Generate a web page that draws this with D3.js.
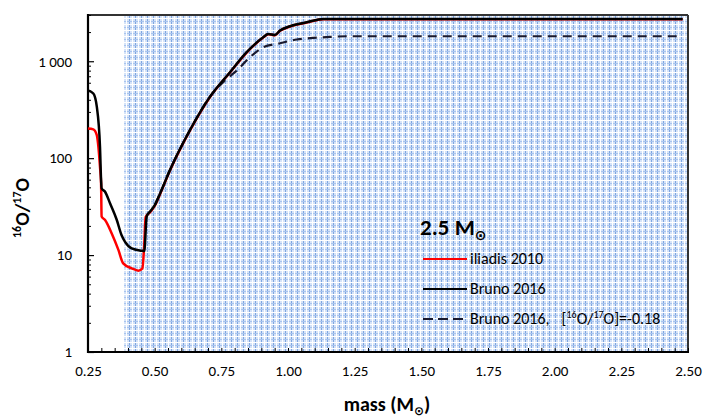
<!DOCTYPE html>
<html><head><meta charset="utf-8">
<script src="https://cdn.jsdelivr.net/npm/d3@7"></script>
<style>
body{margin:0;background:#fff;}
svg{display:block;font-family:Carlito,Lato,"Open Sans",sans-serif;}
</style></head><body>
<svg id="c" width="709" height="420"></svg>
<script>
// ---- data ----
const massBlack = [0.250,0.270,0.283,0.295,0.299,0.301,0.314,0.333,0.358,0.376,0.389,0.414,0.451,0.461,0.470,0.482,0.489,0.501,0.520,0.557,0.632,0.707,0.7825,0.845,0.907,0.926,0.951,0.970,1.0075,1.070,1.132,1.500,2.000,2.480];
const ratioBlack = [500,465,340,130,60,49,45,34,23,16,13.7,11.7,11.1,11.0,25,28,29.5,33,43,75,194,429,771,1239,1767,1911,1867,2072,2296,2523,2729,2730,2730,2730];

const massRed = [0.250,0.270,0.283,0.289,0.295,0.299,0.301,0.314,0.339,0.364,0.382,0.414,0.439,0.454,0.461,0.466,0.482,0.489,0.501,0.520,0.557,0.632,0.707,0.7825,0.845,0.907,0.926,0.951,0.970,1.0075,1.070,1.132,2.480];
const ratioRed = [202,198,173,131,81,55,25,23,16.7,11.3,8.2,7.3,6.9,7.3,13,24.5,27.5,29,32.5,42.5,74,192,425,765,1230,1755,1900,1857,2060,2285,2510,2715,2715];

const massDash = [0.501,0.520,0.557,0.632,0.707,0.760,0.7825,0.808,0.857,0.907,0.970,1.033,1.095,1.157,1.220,1.500,2.000,2.480];
const ratioDash = [33,43,75,194,429,620,700,802,1099,1393,1535,1675,1740,1781,1811,1811,1811,1811];

const xTicks = [0.25,0.50,0.75,1.00,1.25,1.50,1.75,2.00,2.25,2.50];
const yTicks = [1,10,100,1000];
const yTickLabels = ["1","10","100","1 000"];
const legendLabels = ["iliadis 2010","Bruno 2016","Bruno 2016,"];

// ---- layout ----
const L=88,R=688,T=15,B=352;
const FONT="Carlito,Lato,'Open Sans',sans-serif";
const svg=d3.select("#c");
const x=d3.scaleLinear().domain([0.25,2.5]).range([L,R]);
const y=d3.scaleLog().domain([1,3000]).range([B,T]);

const defs=svg.append("defs");
const pat=defs.append("pattern").attr("id","grid").attr("patternUnits","userSpaceOnUse")
  .attr("width",6).attr("height",6);
pat.append("rect").attr("width",6).attr("height",6).attr("fill","#d5e3f8");
pat.append("line").attr("x1",3.5).attr("x2",3.5).attr("y1",0).attr("y2",6).attr("stroke","#7fa6e0").attr("stroke-width",1);
pat.append("line").attr("y1",3.5).attr("y2",3.5).attr("x1",0).attr("x2",6).attr("stroke","#a8c4ee").attr("stroke-width",1);
pat.append("line").attr("x1",0.5).attr("x2",0.5).attr("y1",0).attr("y2",6).attr("stroke","#fff").attr("stroke-width",1);
pat.append("line").attr("y1",0.5).attr("y2",0.5).attr("x1",0).attr("x2",6).attr("stroke","#fff").attr("stroke-width",1);

const shadeStart=0.385;
svg.append("rect").attr("x",x(shadeStart)).attr("y",T).attr("width",R-x(shadeStart)).attr("height",B-T).attr("fill","url(#grid)");

// frame
svg.append("line").attr("x1",L).attr("x2",R).attr("y1",T).attr("y2",T).attr("stroke","#333").attr("stroke-width",2);
svg.append("line").attr("x1",R).attr("x2",R).attr("y1",T).attr("y2",B).attr("stroke","#333").attr("stroke-width",2);

// axes
const xMinor=d3.range(0.25,2.5001,0.05);
const gx=svg.append("g").attr("transform",`translate(0,${B})`);
gx.call(d3.axisBottom(x).tickValues(xMinor).tickSize(-4).tickFormat(""));
gx.select(".domain").remove();
gx.selectAll(".tick line").attr("stroke","#000").attr("stroke-width",1);
const gxl=svg.append("g").attr("transform",`translate(0,${B})`);
gxl.call(d3.axisBottom(x).tickValues(xTicks).tickSize(0).tickPadding(13).tickFormat(d3.format(".2f")));
gxl.select(".domain").remove();
gxl.selectAll("text").attr("font-size",15).attr("fill","#000").style("font-family",FONT);

const yMinor=[];
for(let e=0;e<4;e++)for(let k=2;k<=9;k++){const v=k*Math.pow(10,e);if(v<=3000)yMinor.push(v);}
const gyMinor=svg.append("g").attr("transform",`translate(${L},0)`);
gyMinor.call(d3.axisLeft(y).tickValues(yMinor).tickSize(-3).tickFormat(""));
gyMinor.select(".domain").remove();
gyMinor.selectAll(".tick line").attr("stroke","#000");
const gy=svg.append("g").attr("transform",`translate(${L},0)`);
gy.call(d3.axisLeft(y).tickValues(yTicks).tickSize(-6).tickPadding(16).tickFormat((d,i)=>yTickLabels[i]));
gy.select(".domain").remove();
gy.selectAll(".tick line").attr("stroke","#000").attr("stroke-width",1.2);
gy.selectAll("text").attr("x",-16).attr("text-anchor","end").attr("font-size",15).attr("fill","#000").style("font-family",FONT);

svg.append("line").attr("x1",L).attr("x2",L).attr("y1",T-1).attr("y2",B+1).attr("stroke","#000").attr("stroke-width",2.2);
svg.append("line").attr("x1",L-1).attr("x2",R+1).attr("y1",B).attr("y2",B).attr("stroke","#000").attr("stroke-width",2.2);

// lines
const line=d3.line().x(d=>x(d[0])).y(d=>y(d[1])).curve(d3.curveMonotoneX);
const zip=(a,b)=>a.map((v,i)=>[v,b[i]]);
svg.append("path").attr("d",line(zip(massRed,ratioRed))).attr("fill","none").attr("stroke","#ff0000").attr("stroke-width",2.5);
svg.append("path").attr("d",line(zip(massDash,ratioDash))).attr("fill","none").attr("stroke","#1a1a2e").attr("stroke-width",2.2).attr("stroke-dasharray","9,6");
svg.append("path").attr("d",line(zip(massBlack,ratioBlack))).attr("fill","none").attr("stroke","#000").attr("stroke-width",2.5);

// axis titles
const xt=svg.append("text").attr("x",387).attr("y",411).attr("text-anchor","middle").attr("font-size",20).attr("font-weight","bold");
xt.append("tspan").text("mass (M");
xt.append("tspan").text("⊙").attr("font-size",12).attr("dy",4).style("font-family","DejaVu Sans");
xt.append("tspan").text(")").attr("dy",-4);

const yt=svg.append("text").attr("transform","translate(29,208) rotate(-90)").attr("text-anchor","middle").attr("font-size",20).attr("font-weight","bold");
yt.append("tspan").text("16").attr("font-size",12).attr("dy",-8);
yt.append("tspan").text("O/").attr("dy",8);
yt.append("tspan").text("17").attr("font-size",12).attr("dy",-8);
yt.append("tspan").text("O").attr("dy",8);

// legend
const lt=svg.append("text").attr("x",420).attr("y",235).attr("font-size",23).attr("font-weight","bold");
lt.append("tspan").text("2.5 M");
lt.append("tspan").text("⊙").attr("font-size",14).attr("dy",5).style("font-family","DejaVu Sans");

const legY=[259,289,319];
const legStyles=[{c:"#ff0000",d:null},{c:"#000",d:null},{c:"#1a1a2e",d:"10,5"}];
legY.forEach((ly,i)=>{
  svg.append("line").attr("x1",423).attr("x2",467).attr("y1",ly).attr("y2",ly)
    .attr("stroke",legStyles[i].c).attr("stroke-width",2.2).attr("stroke-dasharray",legStyles[i].d);
  const t=svg.append("text").attr("x",470).attr("y",ly+5).attr("font-size",16).attr("fill","#000");
  t.append("tspan").text(legendLabels[i]);
  if(i===2){
    t.append("tspan").attr("dx",12).text("[");
    t.append("tspan").text("16").attr("font-size",10).attr("dy",-6);
    t.append("tspan").text("O/").attr("dy",6);
    t.append("tspan").text("17").attr("font-size",10).attr("dy",-6);
    t.append("tspan").text("O]=-0.18").attr("dy",6);
  }
});
</script>
</body></html>
